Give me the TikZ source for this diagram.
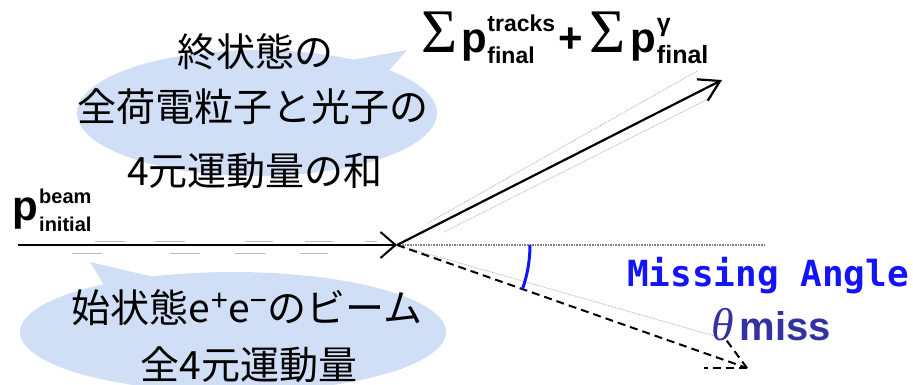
\documentclass[tikz,border=0pt]{standalone}
\usepackage{fontspec}
\setmainfont{Liberation Sans}
\newfontfamily\jpfont{Noto Sans CJK JP}
\newfontfamily\monofnt{DejaVu Sans Mono}
\newfontfamily\seriffnt{Liberation Serif}
\usetikzlibrary{arrows.meta,shapes.callouts}
\definecolor{bubble}{RGB}{208,222,246}
\definecolor{angleblue}{RGB}{20,20,250}
\definecolor{thetablue}{RGB}{50,50,160}
\definecolor{ghost}{RGB}{170,170,170}
% #1 sup, #2 sub, #3 row distance, #4 size of p, #5 size of scripts
\newcommand\pscr[5]{{\fontsize{#4}{#4}\selectfont p}\kern0.5pt\raisebox{-11pt}{\fontsize{#5}{#3}\selectfont\begin{tabular}[b]{@{}l@{}}#1\\#2\end{tabular}}}
\begin{document}
\begin{tikzpicture}[x=1pt,y=-1pt,
  jptext/.style={font=\jpfont\fontsize{39}{39}\selectfont, inner sep=0pt},
  bubblestyle/.style={ellipse callout, fill=bubble, draw=none, inner sep=0pt},
  mainarrow/.style={line width=2pt, -{Straight Barb[length=15pt,width=26pt,line width=2pt]}},
  ghostdot/.style={ghost, line width=0.8pt, densely dotted},
  ghostdash/.style={ghost!80, line width=1.2pt},
  dashline/.style={line width=2pt, dash pattern=on 8pt off 5pt},
  scripttext/.style={font=\bfseries\fontsize{20}{20}\selectfont, inner sep=0pt, anchor=base west}
]
\useasboundingbox (0,0) rectangle (913,385);
% bubbles
\node[bubblestyle, minimum width=360pt, minimum height=126pt, callout absolute pointer={(407,50)}] (ub) at (257,113) {};
\node[bubblestyle, minimum width=426pt, minimum height=120pt, callout absolute pointer={(90,262)}] (lb) at (233,332) {};
% coordinates
\coordinate (S) at (18,245);
\coordinate (V) at (397,245);
\coordinate (T) at (722,80);
\coordinate (D) at (747,368);
\coordinate (H) at (765,245);
\coordinate (Db1) at (704,368);
\coordinate (Db2) at (724,337);
\coordinate (G) at (718,337);
\coordinate (Ua) at (428,223);
\coordinate (Ub) at (697,71);
\coordinate (La) at (444,232);
\coordinate (Lb) at (712,97);
% ghost dashes along beam
\foreach \a/\b in {95/125,155/185,245/273,305/333,365/377}
  \draw[ghostdash] (\a,241.5) -- (\b,241.5);
\foreach \a/\b in {72/102,170/200,235/265,300/328}
  \draw[ghostdash] (\a,253.5) -- (\b,253.5);
% ghost outlines
\draw[ghostdot] (Ua) -- (Ub);
\draw[ghostdot] (La) -- (Lb);
\draw[ghostdot] (V) -- (G);
% horizontal dotted reference
\draw[gray, line width=1.6pt, densely dotted] (V) -- (H);
% arrows
\draw[mainarrow] (S) -- (V);
\draw[line width=2.2pt, -{Straight Barb[length=20pt,width=24pt,line width=2.2pt]}] (V) -- (T);
\draw[dashline] (V) -- (D);
\draw[dashline] (D) -- (Db1);
\draw[dashline] (D) -- (Db2);
% angle arc
\draw[angleblue, line width=3pt] (V) ++(0:133) arc[start angle=0, end angle=19.4, radius=133];
% texts
\node[jptext] (u1) at (255,52) {終状態の};
\node[jptext] (u2) at (253,107) {全荷電粒子と光子の};
\node[jptext] (u3) at (255,171) {4元運動量の和};
\node[jptext] (l1) at (247,308) {始状態e\raisebox{0.32em}{\rmfamily\fontsize{30}{30}\selectfont +}e\raisebox{0.32em}{\rmfamily\fontsize{30}{30}\selectfont −}のビーム};
\node[jptext] (l2) at (249,365) {全4元運動量};
\node[anchor=base west, inner sep=0pt, font=\bfseries\fontsize{42}{42}\selectfont] (pb) at (12,220) {p};
\node[scripttext] (pbsup) at (39,203) {beam};
\node[scripttext] (pbsub) at (39,231) {initial};
\node[anchor=base west, inner sep=0pt, font=\bfseries] (fs) at (421,53) {{\seriffnt\mdseries\fontsize{62}{62}\selectfont Σ}\kern4pt\pscr{tracks}{final}{32}{42}{23}\kern3pt{\fontsize{42}{42}\selectfont +}\kern7pt{\seriffnt\mdseries\fontsize{62}{62}\selectfont Σ}\kern5pt\pscr{γ}{final}{32}{42}{25}};
\node[text=angleblue, font=\monofnt\bfseries\fontsize{36}{36}\selectfont, inner sep=0pt] (ma) at (768,276) {Missing Angle};
\node[text=thetablue, anchor=base west, inner sep=0pt] (tm) at (711,340) {{\seriffnt\itshape\fontsize{46}{46}\selectfont θ}\kern6pt{\fontsize{40}{40}\selectfont\bfseries miss}};
\end{tikzpicture}
\end{document}
